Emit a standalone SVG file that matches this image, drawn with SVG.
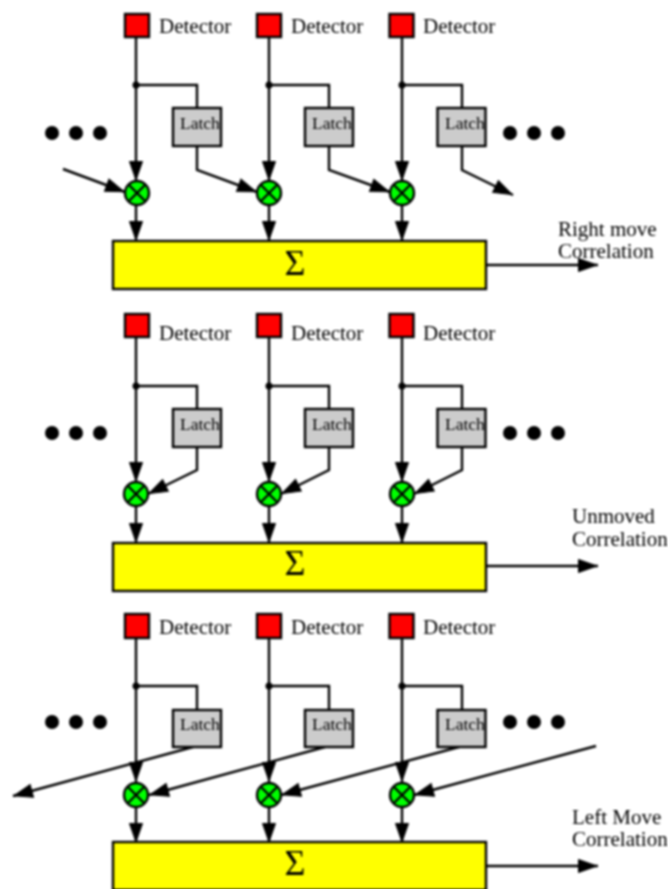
<svg xmlns="http://www.w3.org/2000/svg" width="668" height="889" viewBox="0 0 668 889">
<defs>
<style>
.w{fill:none;stroke:#000;stroke-width:2.4}
.a{marker-end:url(#h)}
.det{fill:#f00;stroke:#000;stroke-width:2.4}
.lat{fill:#ccc;stroke:#000;stroke-width:2.4}
.mul{fill:#0f0;stroke:#000;stroke-width:2.4}
.x{stroke:#000;stroke-width:2.4}
.sum{fill:#ff0;stroke:#000;stroke-width:2.4}
.d{fill:#000}
text{font-family:"Liberation Serif","Times New Roman",serif;fill:#000}
.t{font-size:21px}
.l{font-size:17.5px}
.s{font-size:36px;fill:#000;text-anchor:middle}
</style>
<marker id="h" markerUnits="userSpaceOnUse" markerWidth="23" markerHeight="16" refX="21" refY="8" orient="auto">
<path d="M1.500,1.500L20,8L1.500,14.500Z" fill="#000" stroke="#000"/>
</marker>
<filter id="b" filterUnits="userSpaceOnUse" x="0" y="0" width="668" height="889" color-interpolation-filters="sRGB"><feGaussianBlur in="SourceGraphic" stdDeviation="0.9"/></filter>
</defs>
<rect width="668" height="889" fill="#fff"/>
<g filter="url(#b)">
<rect width="668" height="889" fill="#fff"/>
<g id="connectors">
<path class="w a" d="M136,37V181"/><path class="w a" d="M269,37V181"/><path class="w a" d="M402,37V181"/>
<path class="w" d="M136,85H197V108"/><path class="w" d="M269,85H329V108"/><path class="w" d="M402,85H462V108"/>
<path class="w a" d="M63,169L125,192"/><path class="w a" d="M197,146V170L257,192"/><path class="w a" d="M329,146V170L390,192"/><path class="w a" d="M462,146V170L513,195"/>
<path class="w a" d="M136,205V241"/><path class="w a" d="M269,205V241"/><path class="w a" d="M402,205V241"/>
<path class="w a" d="M486,265H598"/>
<path class="w a" d="M136,338V482"/><path class="w a" d="M269,338V482"/><path class="w a" d="M402,338V482"/>
<path class="w" d="M136,386H197V409"/><path class="w" d="M269,386H329V409"/><path class="w" d="M402,386H462V409"/>
<path class="w a" d="M197,447V470L148,494"/><path class="w a" d="M329,447V470L281,494"/><path class="w a" d="M462,447V470L414,494"/>
<path class="w a" d="M136,506V543"/><path class="w a" d="M269,506V543"/><path class="w a" d="M402,506V543"/>
<path class="w a" d="M486,566H598"/>
<path class="w a" d="M136,638V782"/><path class="w a" d="M269,638V782"/><path class="w a" d="M402,638V782"/>
<path class="w" d="M136,686H197V710"/><path class="w" d="M269,686H329V710"/><path class="w" d="M402,686H462V710"/>
<path class="w a" d="M193,747L13,796"/><path class="w a" d="M325,747L149,795"/><path class="w a" d="M459,747L281,795"/><path class="w a" d="M596,746L414,795"/>
<path class="w a" d="M136,807V843"/><path class="w a" d="M269,807V843"/><path class="w a" d="M402,807V843"/>
<path class="w a" d="M486,866H598"/>
</g>
<g id="junctions">
<circle class="d" cx="136" cy="85" r="3.5"/><circle class="d" cx="269" cy="85" r="3.5"/><circle class="d" cx="402" cy="85" r="3.5"/>
<circle class="d" cx="136" cy="386" r="3.5"/><circle class="d" cx="269" cy="386" r="3.5"/><circle class="d" cx="402" cy="386" r="3.5"/>
<circle class="d" cx="136" cy="686" r="3.5"/><circle class="d" cx="269" cy="686" r="3.5"/><circle class="d" cx="402" cy="686" r="3.5"/>
</g>
<g id="det-1-1"><rect class="det" x="125" y="14" width="24" height="23"/><text class="t" x="159" y="33">Detector</text></g>
<g id="det-1-2"><rect class="det" x="257" y="14" width="24" height="23"/><text class="t" x="291" y="33">Detector</text></g>
<g id="det-1-3"><rect class="det" x="389.500" y="14" width="24" height="23"/><text class="t" x="423" y="33">Detector</text></g>
<g id="latch-1-1"><rect class="lat" x="173" y="108" width="48" height="38"/><text class="l" x="180" y="129">Latch</text></g>
<g id="latch-1-2"><rect class="lat" x="305" y="108" width="48" height="38"/><text class="l" x="312" y="129">Latch</text></g>
<g id="latch-1-3"><rect class="lat" x="437.500" y="108" width="48" height="38"/><text class="l" x="445" y="129">Latch</text></g>
<g id="mul-1-1"><circle class="mul" cx="137" cy="193" r="12"/><path class="x" d="M129,185L145,201M145,185L129,201"/></g>
<g id="mul-1-2"><circle class="mul" cx="269" cy="193" r="12"/><path class="x" d="M261,185L277,201M277,185L261,201"/></g>
<g id="mul-1-3"><circle class="mul" cx="402" cy="193" r="12"/><path class="x" d="M394,185L410,201M410,185L394,201"/></g>
<g id="sum-1"><rect class="sum" x="113" y="241" width="373" height="48"/><text class="s" x="295" y="275">Σ</text></g>
<g id="dots-1-l"><circle class="d" cx="52" cy="133" r="7"/><circle class="d" cx="76" cy="133" r="7"/><circle class="d" cx="100" cy="133" r="7"/></g>
<g id="dots-1-r"><circle class="d" cx="510" cy="133" r="7"/><circle class="d" cx="534" cy="133" r="7"/><circle class="d" cx="558" cy="133" r="7"/></g>
<g id="out-1"><text class="t" x="558" y="236">Right move</text><text class="t" x="558" y="258">Correlation</text></g>
<g id="det-2-1"><rect class="det" x="125" y="314" width="24" height="23"/><text class="t" x="159" y="340">Detector</text></g>
<g id="det-2-2"><rect class="det" x="257" y="314" width="24" height="23"/><text class="t" x="291" y="340">Detector</text></g>
<g id="det-2-3"><rect class="det" x="389.500" y="314" width="24" height="23"/><text class="t" x="423" y="340">Detector</text></g>
<g id="latch-2-1"><rect class="lat" x="173" y="409" width="48" height="38"/><text class="l" x="180" y="430">Latch</text></g>
<g id="latch-2-2"><rect class="lat" x="305" y="409" width="48" height="38"/><text class="l" x="312" y="430">Latch</text></g>
<g id="latch-2-3"><rect class="lat" x="437.500" y="409" width="48" height="38"/><text class="l" x="445" y="430">Latch</text></g>
<g id="mul-2-1"><circle class="mul" cx="136" cy="494" r="12"/><path class="x" d="M128,486L144,502M144,486L128,502"/></g>
<g id="mul-2-2"><circle class="mul" cx="269" cy="494" r="12"/><path class="x" d="M261,486L277,502M277,486L261,502"/></g>
<g id="mul-2-3"><circle class="mul" cx="402" cy="494" r="12"/><path class="x" d="M394,486L410,502M410,486L394,502"/></g>
<g id="sum-2"><rect class="sum" x="113" y="543" width="373" height="48"/><text class="s" x="295" y="575">Σ</text></g>
<g id="dots-2-l"><circle class="d" cx="52" cy="433" r="7"/><circle class="d" cx="76" cy="433" r="7"/><circle class="d" cx="100" cy="433" r="7"/></g>
<g id="dots-2-r"><circle class="d" cx="510" cy="433" r="7"/><circle class="d" cx="534" cy="433" r="7"/><circle class="d" cx="558" cy="433" r="7"/></g>
<g id="out-2"><text class="t" x="572" y="523">Unmoved</text><text class="t" x="572" y="546">Correlation</text></g>
<g id="det-3-1"><rect class="det" x="125" y="614" width="24" height="24"/><text class="t" x="159" y="634">Detector</text></g>
<g id="det-3-2"><rect class="det" x="257" y="614" width="24" height="24"/><text class="t" x="291" y="634">Detector</text></g>
<g id="det-3-3"><rect class="det" x="389.500" y="614" width="24" height="24"/><text class="t" x="423" y="634">Detector</text></g>
<g id="latch-3-1"><rect class="lat" x="173" y="710" width="48" height="37"/><text class="l" x="180" y="730">Latch</text></g>
<g id="latch-3-2"><rect class="lat" x="305" y="710" width="48" height="37"/><text class="l" x="312" y="730">Latch</text></g>
<g id="latch-3-3"><rect class="lat" x="437.500" y="710" width="48" height="37"/><text class="l" x="445" y="730">Latch</text></g>
<g id="mul-3-1"><circle class="mul" cx="136" cy="795" r="12"/><path class="x" d="M128,787L144,803M144,787L128,803"/></g>
<g id="mul-3-2"><circle class="mul" cx="269" cy="795" r="12"/><path class="x" d="M261,787L277,803M277,787L261,803"/></g>
<g id="mul-3-3"><circle class="mul" cx="402" cy="795" r="12"/><path class="x" d="M394,787L410,803M410,787L394,803"/></g>
<g id="sum-3"><rect class="sum" x="113" y="842" width="373" height="48"/><text class="s" x="295" y="875">Σ</text></g>
<g id="dots-3-l"><circle class="d" cx="52" cy="722" r="7"/><circle class="d" cx="76" cy="722" r="7"/><circle class="d" cx="100" cy="722" r="7"/></g>
<g id="dots-3-r"><circle class="d" cx="510" cy="722" r="7"/><circle class="d" cx="534" cy="722" r="7"/><circle class="d" cx="558" cy="722" r="7"/></g>
<g id="out-3"><text class="t" x="572" y="824">Left Move</text><text class="t" x="572" y="846">Correlation</text></g>
</g>
</svg>
